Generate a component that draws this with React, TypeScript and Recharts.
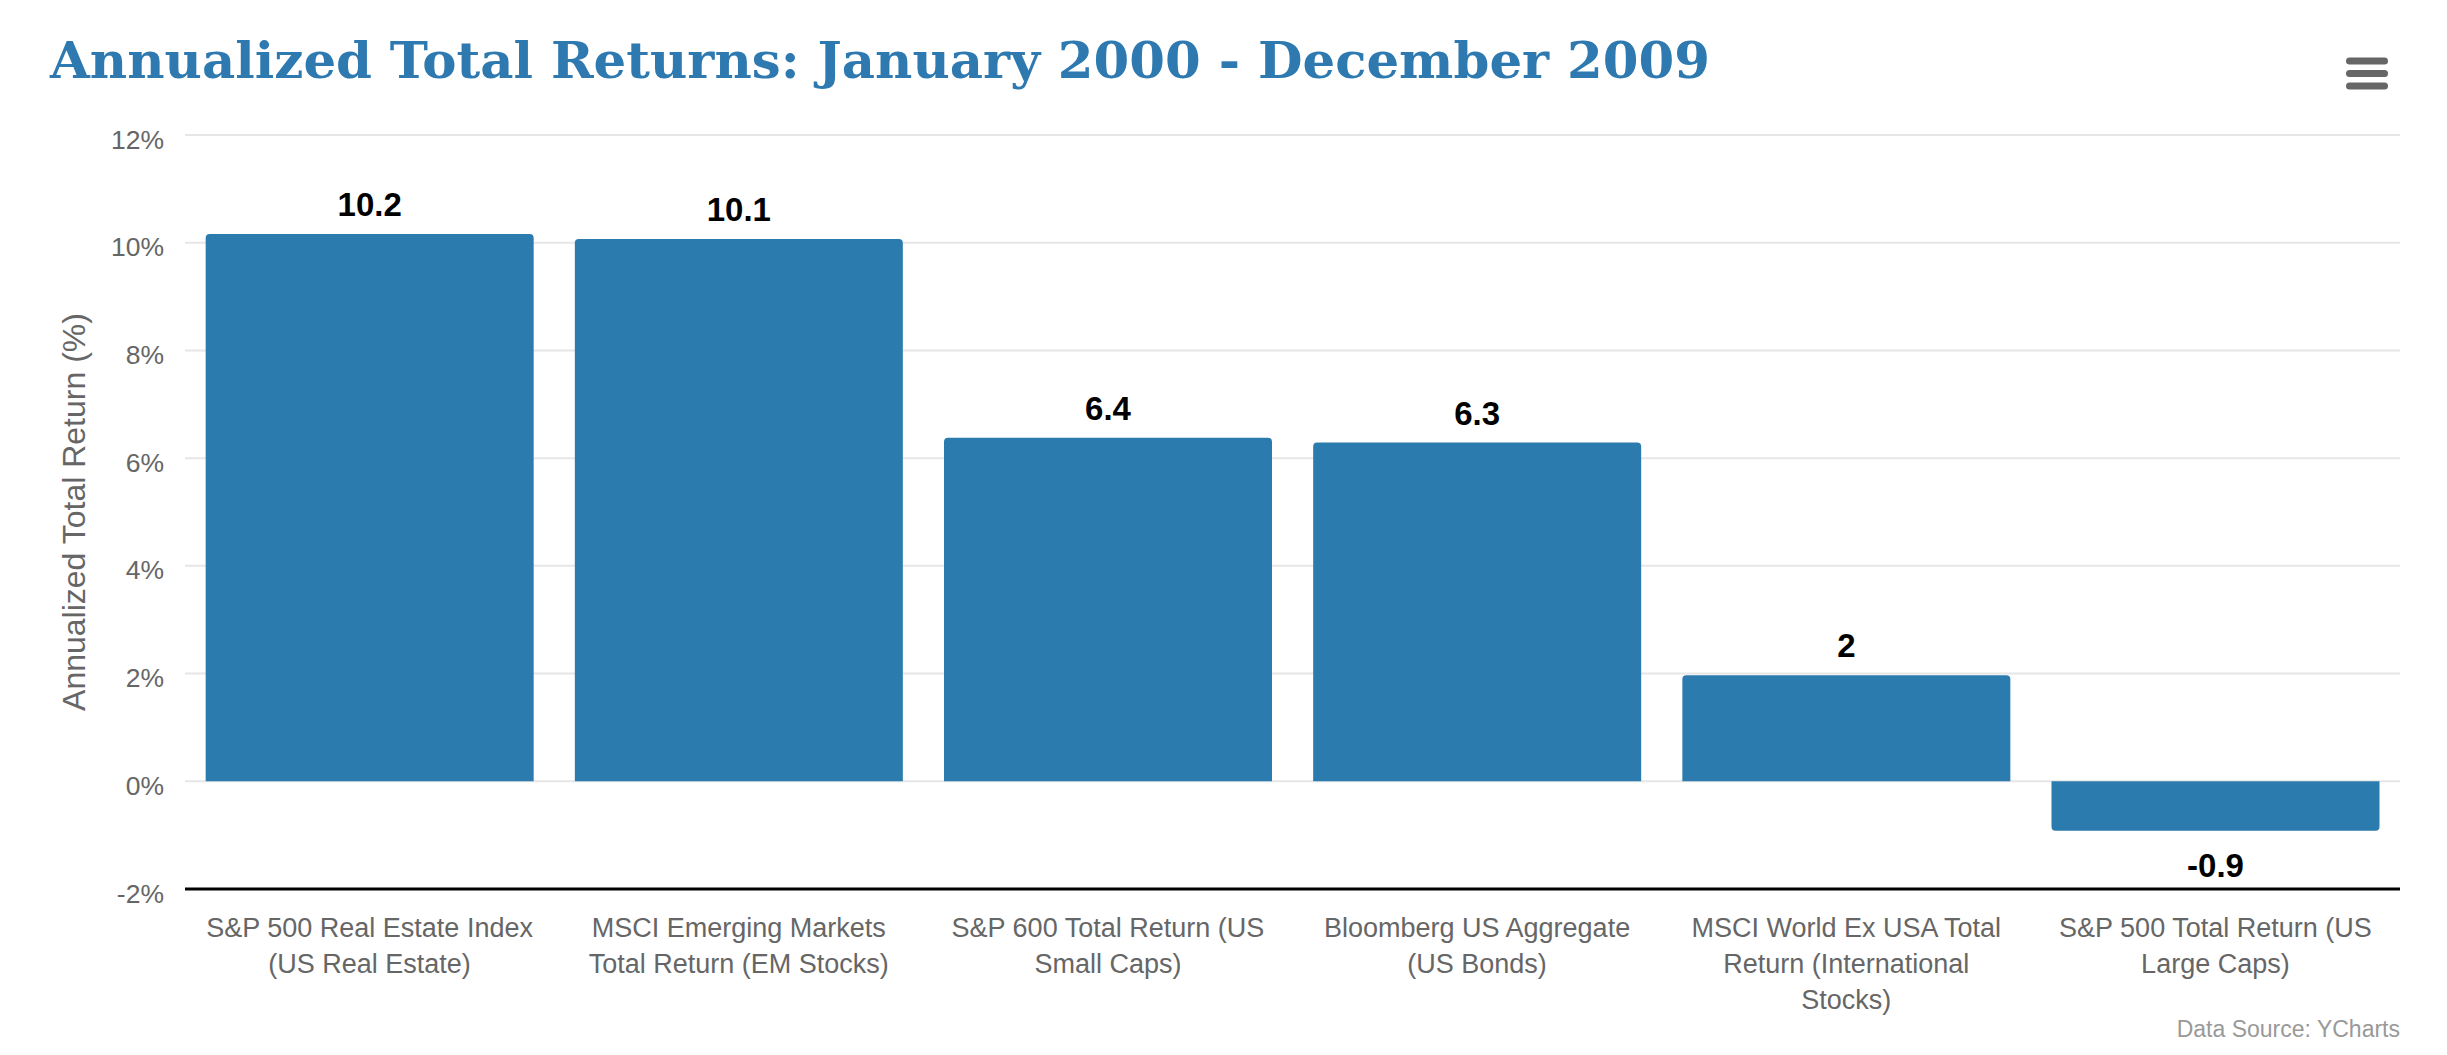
import React from "react";
import { BarChart, Bar, XAxis, YAxis, CartesianGrid, LabelList } from "recharts";

// ---- data ----
const categories: string[] = [
  "S&P 500 Real Estate Index (US Real Estate)",
  "MSCI Emerging Markets Total Return (EM Stocks)",
  "S&P 600 Total Return (US Small Caps)",
  "Bloomberg US Aggregate (US Bonds)",
  "MSCI World Ex USA Total Return (International Stocks)",
  "S&P 500 Total Return (US Large Caps)",
];
const annualizedReturns: number[] = [10.16, 10.07, 6.38, 6.29, 1.97, -0.92];
const yTicks: number[] = [-2, 0, 2, 4, 6, 8, 10, 12];

const TITLE = "Annualized Total Returns: January 2000 - December 2009";
const Y_TITLE = "Annualized Total Return (%)";
const SOURCE = "Data Source: YCharts";

const data = categories.map((name, i) => ({ name, value: annualizedReturns[i] }));

// ---- layout / style ----
const W = 2447;
const H = 1055;
const BAR_COLOR = "#2c7bae";
const SANS = "'Liberation Sans', Arial, Helvetica, sans-serif";
const X_FONT = 27;
const Y_FONT = 26.5;
const X_BASELINE = 937;
const X_LINE_H = 36;

let ctx: CanvasRenderingContext2D | null = null;
function measure(text: string, size: number): number {
  if (!ctx && typeof document !== "undefined") {
    const c = document.createElement("canvas");
    ctx = c.getContext("2d");
  }
  if (ctx) {
    ctx.font = `${size}px 'Liberation Sans', Arial, sans-serif`;
    return ctx.measureText(text).width;
  }
  return text.length * size * 0.5;
}

function wrap(text: string, size: number, maxW: number): string[] {
  const words = text.split(" ");
  const lines: string[] = [];
  let cur = "";
  for (const w of words) {
    const trial = cur ? cur + " " + w : w;
    if (cur && measure(trial, size) > maxW) {
      lines.push(cur);
      cur = w;
    } else {
      cur = trial;
    }
  }
  if (cur) lines.push(cur);
  return lines;
}

const fmt = (v: number) => String(Math.round(v * 10) / 10);

const XTick = (props: any) => {
  const { x, payload } = props;
  const lines = wrap(String(payload.value), X_FONT, X_FONT * 12.4);
  return (
    <text x={x} y={X_BASELINE} textAnchor="middle" fill="#666666" fontSize={X_FONT} fontFamily={SANS}>
      {lines.map((l, i) => (
        <tspan key={i} x={x} y={X_BASELINE + i * X_LINE_H}>
          {l}
        </tspan>
      ))}
    </text>
  );
};

const YTick = (props: any) => {
  const { y, payload } = props;
  return (
    <text x={164} y={Number(y) + 13.5} textAnchor="end" fill="#666666" fontSize={Y_FONT} fontFamily={SANS}>
      {`${payload.value}%`}
    </text>
  );
};

const BarShape = (props: any) => {
  const x = Number(props.x);
  const y = Number(props.y);
  const w = Number(props.width);
  const hRaw = Number(props.height);
  const top = Math.min(y, y + hRaw);
  const h = Math.abs(hRaw);
  const v = props.payload ? Number(props.payload.value) : 0;
  const r = Math.min(4, h / 2, w / 2);
  let d: string;
  if (v >= 0) {
    d = `M${x},${top + h} L${x},${top + r} Q${x},${top} ${x + r},${top} L${x + w - r},${top} Q${x + w},${top} ${x + w},${top + r} L${x + w},${top + h} Z`;
  } else {
    d = `M${x},${top} L${x + w},${top} L${x + w},${top + h - r} Q${x + w},${top + h} ${x + w - r},${top + h} L${x + r},${top + h} Q${x},${top + h} ${x},${top + h - r} Z`;
  }
  return <path d={d} fill={BAR_COLOR} />;
};

const ValueLabel = (props: any) => {
  const x = Number(props.x);
  const y = Number(props.y);
  const w = Number(props.width);
  const h = Number(props.height);
  const v = Number(props.value);
  const top = Math.min(y, y + h);
  const bottom = Math.max(y, y + h);
  const cx = x + w / 2;
  const baseline = v >= 0 ? top - 18 : bottom + 46;
  return (
    <text x={cx} y={baseline} textAnchor="middle" fill="#000000" fontSize={33} fontWeight="bold" fontFamily={SANS}>
      {fmt(v)}
    </text>
  );
};

export default function App() {
  return (
    <div style={{ position: "relative", width: W, height: H, background: "#ffffff", overflow: "hidden" }}>
      <style>{"body{margin:0;background:#fff;}"}</style>
      <BarChart
        width={W}
        height={H}
        data={data}
        margin={{ top: 135, right: 47, bottom: 0, left: 0 }}
        barCategoryGap="5.6%"
      >
        <CartesianGrid horizontal vertical={false} stroke="#e6e6e6" strokeWidth={2} />
        <XAxis
          dataKey="name"
          height={166}
          tickLine={false}
          axisLine={{ stroke: "#000000", strokeWidth: 3 }}
          tick={<XTick />}
          interval={0}
        />
        <YAxis
          width={185}
          domain={[-2, 12]}
          ticks={yTicks}
          tickLine={false}
          axisLine={false}
          tick={<YTick />}
          interval={0}
          allowDataOverflow
        />
        <Bar dataKey="value" fill={BAR_COLOR} isAnimationActive={false} shape={<BarShape />}>
          <LabelList dataKey="value" content={<ValueLabel />} />
        </Bar>
      </BarChart>
      <svg
        width={W}
        height={H}
        style={{ position: "absolute", left: 0, top: 0, pointerEvents: "none" }}
      >
        <text
          x={50}
          y={78}
          fill="#2e7ab0"
          fontFamily="'DejaVu Serif', Georgia, serif"
          fontWeight="bold"
          fontSize={51}
          textLength={1660}
          lengthAdjust="spacingAndGlyphs"
        >
          {TITLE}
        </text>
        <text
          x={85}
          y={512}
          transform="rotate(-90 85 512)"
          textAnchor="middle"
          fill="#666666"
          fontSize={32}
          fontFamily={SANS}
        >
          {Y_TITLE}
        </text>
        <g fill="#666666">
          <rect x={2346} y={57.5} width={42} height={7} rx={3.5} />
          <rect x={2346} y={70} width={42} height={7} rx={3.5} />
          <rect x={2346} y={82.5} width={42} height={7} rx={3.5} />
        </g>
        <text x={2400} y={1037} textAnchor="end" fill="#999999" fontSize={23} fontFamily={SANS}>
          {SOURCE}
        </text>
      </svg>
    </div>
  );
}
